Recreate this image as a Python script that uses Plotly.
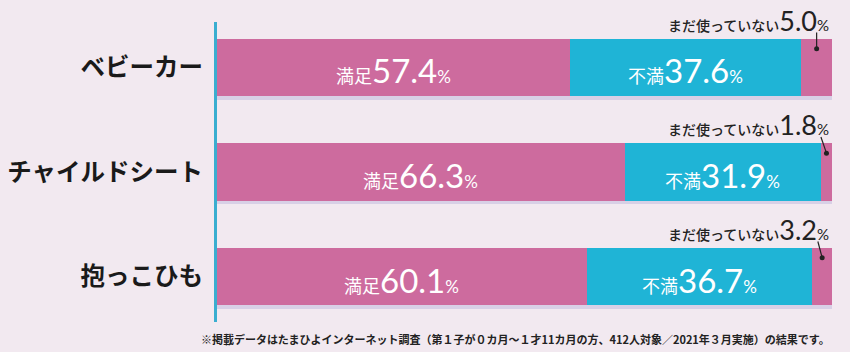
import plotly.graph_objects as go

categories = ["ベビーカー", "チャイルドシート", "抱っこひも"]
satisfied = [57.4, 66.3, 60.1]
unsatisfied = [37.6, 31.9, 36.7]
not_yet = [5.0, 1.8, 3.2]
footnote = "※掲載データはたまひよインターネット調査（第１子が０カ月～１才11カ月の方、412人対象／2021年３月実施）の結果です。"

PINK = "#cd6b9e"
CYAN = "#1fb4d6"
BG = "#f2e9f0"
SHADOW = "#d8d0e6"
AXIS = "#3aaed0"
BW = 0.55

ys = list(range(len(categories)))
base_uns = satisfied[:]
base_not = [s + u for s, u in zip(satisfied, unsatisfied)]
totals = [s + u + n for s, u, n in zip(satisfied, unsatisfied, not_yet)]

fig = go.Figure()
# shadow
fig.add_trace(go.Bar(y=ys, x=totals, base=[0] * 3, orientation="h", width=BW,
                     offset=-BW / 2 + 0.035, marker=dict(color=SHADOW, line_width=0),
                     hoverinfo="skip", showlegend=False))
fig.add_trace(go.Bar(y=ys, x=satisfied, base=[0] * 3, orientation="h", width=BW,
                     marker=dict(color=PINK, line_width=0), name="満足", showlegend=False))
fig.add_trace(go.Bar(y=ys, x=unsatisfied, base=base_uns, orientation="h", width=BW,
                     marker=dict(color=CYAN, line_width=0), name="不満", showlegend=False))
fig.add_trace(go.Bar(y=ys, x=not_yet, base=base_not, orientation="h", width=BW,
                     marker=dict(color=PINK, line_width=0), name="まだ使っていない", showlegend=False))

JP = "Noto Sans CJK JP"


def inner(label, v):
    return (f'<span style="font-size:18px">{label}</span>'
            f'<span style="font-size:33px;font-family:Lato">{v}</span>'
            f'<span style="font-size:17px;font-family:Lato">%</span>')


for i in ys:
    fig.add_annotation(x=satisfied[i] / 2, y=i, text=inner("満足", satisfied[i]), showarrow=False,
                       font=dict(family=JP, color="white"), yshift=-3)
    fig.add_annotation(x=base_uns[i] + unsatisfied[i] / 2, y=i, text=inner("不満", unsatisfied[i]),
                       showarrow=False, font=dict(family=JP, color="white"), yshift=-3)
    fig.add_annotation(x=100, y=i - BW / 2, xanchor="right", yanchor="bottom",
                       text=(f'<span style="font-size:14px;font-weight:500">まだ使っていない</span>'
                             f'<span style="font-size:27px;font-family:Lato">{not_yet[i]}</span>'
                             f'<span style="font-size:15px;font-family:Lato">%</span>'),
                       showarrow=False, font=dict(family=JP, color="#222"), yshift=0, xshift=-1)

# leader dots and lines
dot_x = [base_not[i] + not_yet[i] / 2 for i in ys]
dot_y = [i - BW / 2 + 0.095 for i in ys]
line_dx = [0.0, -0.9, -0.7]
for i in ys:
    fig.add_shape(type="line", x0=dot_x[i] + line_dx[i], x1=dot_x[i], y0=i - BW / 2 - 0.06, y1=dot_y[i],
                  line=dict(color="#222", width=1.2))
fig.add_trace(go.Scatter(x=dot_x, y=dot_y, mode="markers",
                         marker=dict(color="#222", size=5), hoverinfo="skip", showlegend=False))

fig.add_annotation(xref="paper", yref="paper", x=1.0, y=-0.057, xanchor="right", yanchor="middle",
                   text=footnote, showarrow=False,
                   font=dict(family=JP, size=11, color="#222", weight="bold"))

fig.update_layout(
    width=850, height=352,
    margin=dict(l=217, r=18, t=22, b=30),
    paper_bgcolor=BG, plot_bgcolor=BG,
    barmode="overlay", bargap=0,
    xaxis=dict(range=[0, 100], visible=False, fixedrange=True, automargin=False),
    yaxis=dict(range=[2.435, -0.435], tickmode="array", tickvals=ys,
               ticktext=[f"<b>{c}</b>" for c in categories],
               tickfont=dict(family=JP, size=24.5, color="#1a1a1a"),
               showline=True, linecolor=AXIS, linewidth=3, showgrid=False, zeroline=False,
               ticks="", ticklabelstandoff=6, automargin=False),
)

fig.write_html("out.html")
